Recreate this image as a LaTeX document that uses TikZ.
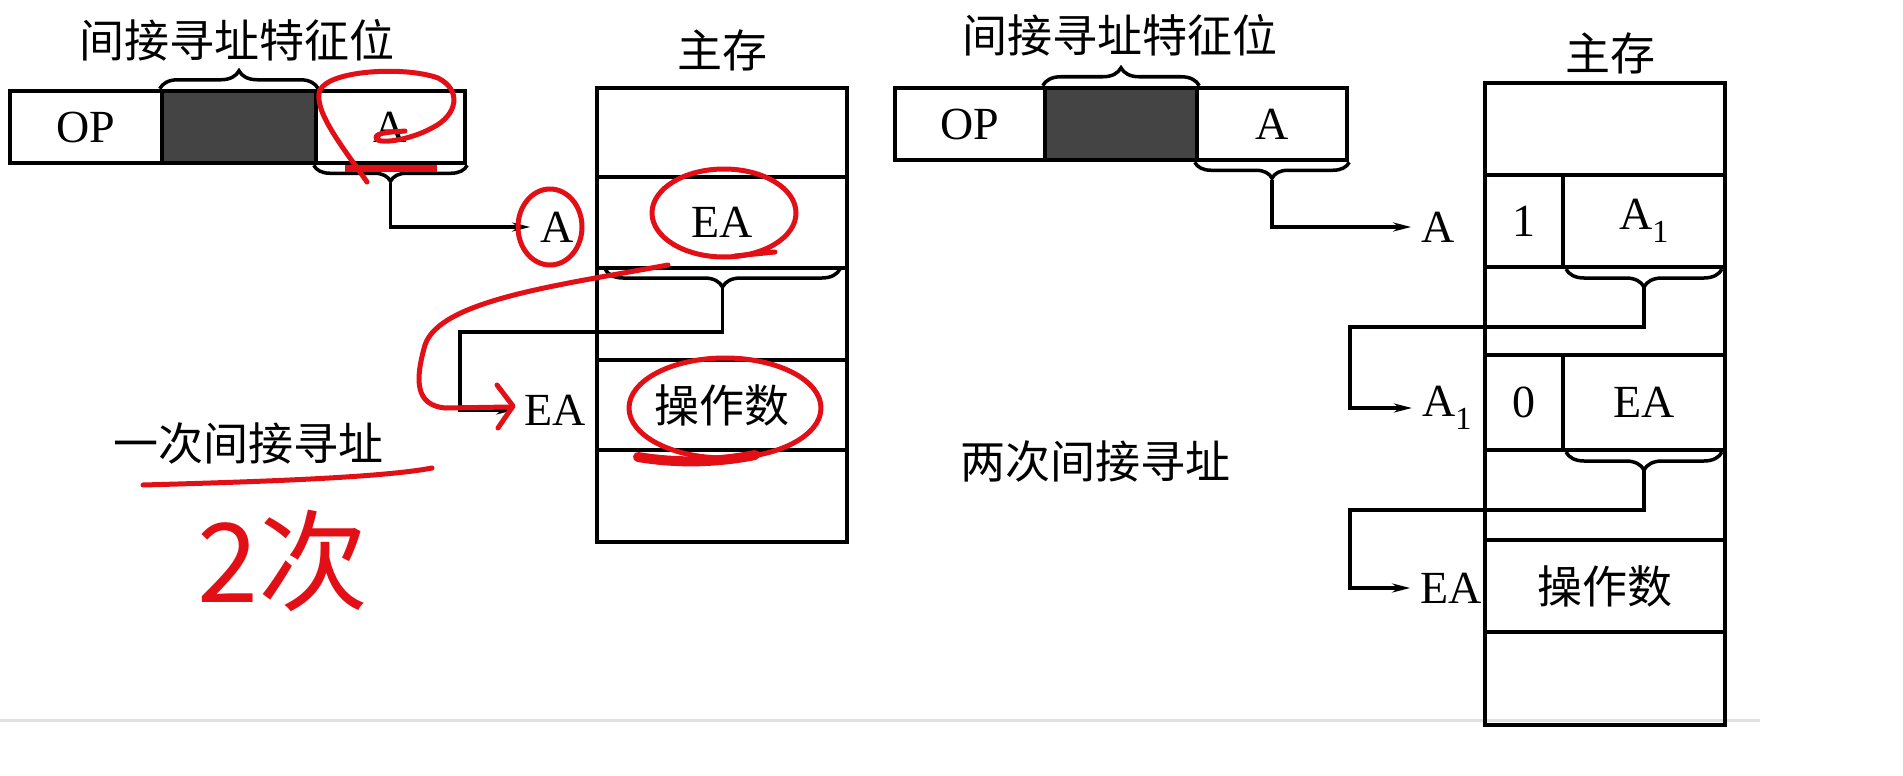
\documentclass[tikz,border=0pt]{standalone}
\usepackage{fontspec}
\setmainfont{Liberation Serif}
\newfontfamily\cjk{Noto Sans CJK SC}
\usetikzlibrary{arrows.meta,decorations.pathreplacing,calc}
\definecolor{hand}{RGB}{226,16,22}
\definecolor{shade}{RGB}{68,68,68}
\begin{document}
\begin{tikzpicture}[x=1pt,y=-1pt,
  box/.style={draw,line width=4.5pt,inner sep=0pt,font=\fontsize{46}{52}\selectfont},
  zhbox/.style={box,font=\cjk\fontsize{45}{52}\selectfont},
  lbl/.style={inner sep=0pt,font=\fontsize{46}{52}\selectfont},
  zh/.style={inner sep=0pt,font=\cjk\fontsize{45}{52}\selectfont},
  arr/.style={line width=3.5pt,shorten >=10pt,-{Stealth[length=18pt,width=9pt]}},
  brc/.style={line width=3.5pt,decorate,decoration={brace,amplitude=#1}},
  brc/.default=16pt,
  ink/.style={draw=hand,line width=5pt,line cap=round,line join=round}]
\useasboundingbox (0,0) rectangle (1903,776);
\fill[white] (0,0) rectangle (1903,776);
\draw[black!12,line width=3pt] (0,720) -- (1760,720);

% ---------- left: single indirect ----------
\node[zh] (f1) at (237,40) {间接寻址特征位};
\node[box,minimum width=152pt,minimum height=72pt] (op1) at (86,127) {OP};
\node[box,fill=shade,minimum width=154pt,minimum height=72pt] (ind1) at (239,127) {};
\node[box,minimum width=149pt,minimum height=72pt] (a1) at (390.5,127) {A};
\draw[brc=18pt] (ind1.north west) -- (ind1.north east);
\draw[brc] (a1.south east) -- (a1.south west);
\coordinate (t1) at ($(a1.south)+(0,18)$);

\node[zh] (ms1) at (722,50) {主存};
\node[box,minimum width=250pt,minimum height=89pt] (m1) at (722,132.5) {};
\node[box,minimum width=250pt,minimum height=91pt] (m2) at (722,222.5) {EA};
\node[box,minimum width=250pt,minimum height=92pt] (m3) at (722,314) {};
\node[zhbox,minimum width=250pt,minimum height=90pt] (m4) at (722,405) {操作数};
\node[box,minimum width=250pt,minimum height=92pt] (m5) at (722,496) {};

\node[lbl] (la) at (557,227) {A};
\draw[arr] (t1) |- (la);

\draw[brc=18pt] (840,269) -- (605,269);
\coordinate (t2) at (722.5,287);
\coordinate (k1) at (460,332);
\node[lbl] (lea) at (555,410) {EA};
\draw[arr] (t2) |- (k1) |- (lea);

\node[zh] (one) at (248,443) {一次间接寻址};

% ---------- right: double indirect ----------
\node[zh] (f2) at (1120,35) {间接寻址特征位};
\node[box,minimum width=150pt,minimum height=72pt] (op2) at (970,124) {OP};
\node[box,fill=shade,minimum width=152pt,minimum height=72pt] (ind2) at (1121,124) {};
\node[box,minimum width=150pt,minimum height=72pt] (a2) at (1272,124) {A};
\draw[brc=18pt] (ind2.north west) -- (ind2.north east);
\draw[brc] (a2.south east) -- (a2.south west);
\coordinate (t3) at ($(a2.south)+(0,18)$);

\node[zh] (ms2) at (1610,53) {主存};
\node[box,minimum width=240pt,minimum height=92pt] (r1) at (1605,129) {};
\node[box,minimum width=78pt,minimum height=92pt] (r2a) at (1524,221) {1};
\node[box,minimum width=162pt,minimum height=92pt] (r2b) at (1644,221) {A\textsubscript{1}};
\node[box,minimum width=240pt,minimum height=88pt] (r3) at (1605,311) {};
\node[box,minimum width=78pt,minimum height=95pt] (r4a) at (1524,402.5) {0};
\node[box,minimum width=162pt,minimum height=95pt] (r4b) at (1644,402.5) {EA};
\node[box,minimum width=240pt,minimum height=90pt] (r5) at (1605,495) {};
\node[zhbox,minimum width=240pt,minimum height=92pt] (r6) at (1605,586) {操作数};
\node[box,minimum width=240pt,minimum height=93pt] (r7) at (1605,678.5) {};

\node[lbl] (ra) at (1438,227) {A};
\draw[arr] (t3) |- (ra);

\draw[brc=18pt] (1722,269) -- (1566,269);
\coordinate (t4) at (1644,287);
\coordinate (k2) at (1350,327);
\node[lbl] (ra1) at (1447,408) {A\textsubscript{1}};
\draw[arr] (t4) |- (k2) |- (ra1);

\draw[brc=18pt] (1722,452) -- (1566,452);
\coordinate (t5) at (1644,470);
\coordinate (k3) at (1350,510);
\node[lbl] (rea) at (1451,588) {EA};
\draw[arr] (t5) |- (k3) |- (rea);

\node[zh] (two) at (1095,461) {两次间接寻址};

% ---------- red handwriting ----------
\draw[ink] (367,182) .. controls (345,150) and (312,110) .. (320,90)
  .. controls (330,70) and (405,66) .. (438,78)
  .. controls (462,90) and (458,115) .. (432,128)
  .. controls (410,140) and (378,145) .. (376,138)
  .. controls (375,132) and (395,132) .. (405,131);
\draw[hand,line width=7pt] (345,168) -- (437,168);
\draw[ink] (550,227) ellipse [x radius=32pt,y radius=38pt];
\draw[ink] (724,213) ellipse [x radius=72pt,y radius=44pt];
\draw[ink] (735,256) -- (775,252);
\draw[ink] (668,265) .. controls (560,285) and (440,300) .. (425,345)
  .. controls (415,380) and (415,405) .. (445,408) -- (510,407);
\draw[ink] (497,385) -- (513,406) -- (498,428);
\draw[ink] (725,408) ellipse [x radius=96pt,y radius=50pt];
\draw[hand,line width=10pt,line cap=round] (638,457) .. controls (680,464) and (720,462) .. (755,455);
\draw[ink] (143,485) .. controls (250,482) and (380,478) .. (432,468);
\node[font=\cjk\fontsize{110}{120}\selectfont,text=hand,inner sep=0pt] (cnt) at (283,561) {2次};
\end{tikzpicture}
\end{document}
